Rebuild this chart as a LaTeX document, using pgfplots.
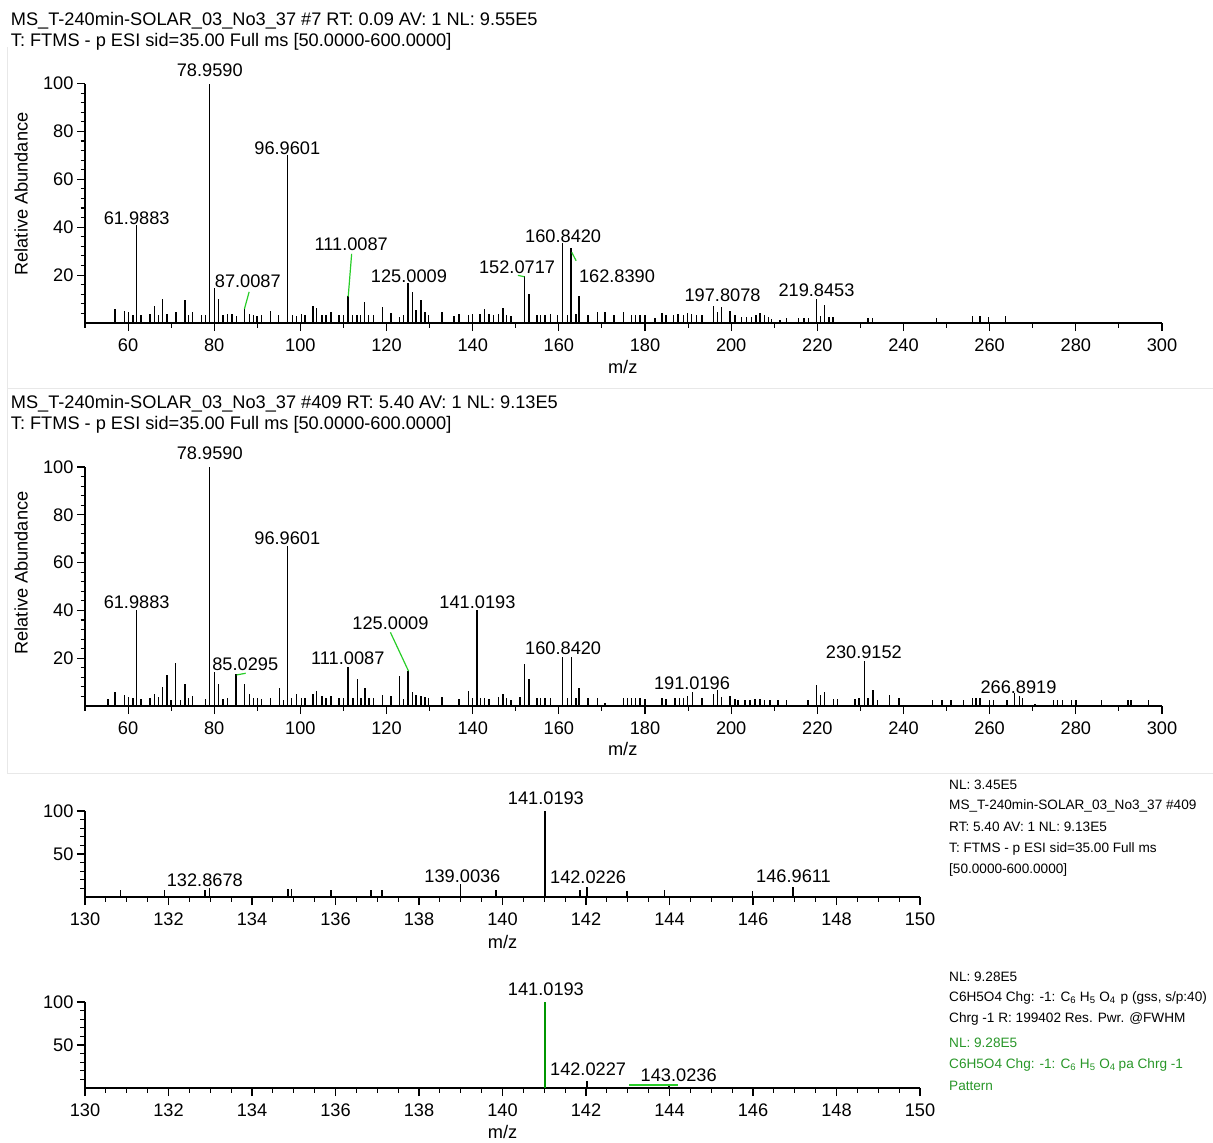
\documentclass[border=0pt]{standalone}
\usepackage{pgfplots}
\pgfplotsset{compat=1.18}
\usepackage{pgfplotstable}
\usepackage{fontspec}
\setmainfont{Liberation Sans}
\definecolor{lblgreen}{RGB}{40,205,40}
\definecolor{txtgreen}{RGB}{40,150,40}
\definecolor{pkgreen}{RGB}{0,150,0}
\definecolor{sepgray}{RGB}{232,232,232}
\newcommand{\bigf}{\fontsize{18.2}{21}\selectfont}
\newcommand{\smallf}{\fontsize{13.6}{16}\selectfont}

\pgfplotstableread{
mz int
57.0 6.0
59.1 4.9
60.1 4.6
61.1 3.5
61.99 41
63.0 3.2
65.1 3.9
66.1 7.0
67.0 3.2
68.0 10.2
69.0 3.9
71.1 4.6
73.2 9.5
74.0 3.2
74.9 4.6
77.1 3.2
78.0 3.5
78.96 100
80.0 14.7
81.0 9.9
82.0 3.2
83.1 3.9
84.1 3.6
85.2 2.8
87.0 6.0
88.2 3.9
89.1 3.5
89.9 2.8
91.0 3.2
93.0 5.0
94.9 3.2
96.96 70
98.1 3.2
99.1 2.8
100.2 3.6
101.1 3.2
102.9 7.0
103.8 6.4
105.0 3.5
105.9 3.2
107.1 4.6
109.0 3.2
110.0 3.2
111.01 11.2
112.1 3.2
113.1 3.2
113.9 3.2
114.9 8.8
115.8 3.2
117.0 3.2
119.1 6.7
121.0 4.3
123.0 2.5
123.9 3.2
125.0 16.8
126.0 13.0
126.8 5.6
128.0 9.5
128.9 4.6
129.7 3.2
132.9 4.6
135.7 2.8
136.8 3.9
139.0 3.2
139.9 3.9
141.7 3.9
142.7 5.7
143.8 3.9
144.8 3.2
146.0 3.9
147.0 6.3
147.9 3.2
148.9 2.8
152.07 19.5
153.1 12.0
154.9 3.2
155.8 3.2
156.8 3.2
158.0 3.9
159.7 3.2
160.84 33.6
162.0 3.2
162.84 31.2
164.0 3.9
164.7 11.2
166.8 3.2
168.9 4.6
170.7 4.6
172.8 3.5
175.0 4.6
176.8 3.5
177.8 3.5
178.8 3.5
180.0 3.2
182.3 2.2
183.9 4.3
184.9 3.2
186.6 3.5
187.7 3.9
188.9 3.5
189.9 4.3
190.8 3.9
192.0 3.5
193.2 3.2
195.9 7.1
196.8 4.6
197.81 6.7
199.7 4.9
200.9 3.2
202.4 2.4
203.6 2.4
204.7 2.4
205.8 3.5
206.7 4.1
207.7 3.5
208.6 2.5
209.4 1.5
211.3 1.3
212.9 2.0
215.6 2.0
216.9 2.0
217.9 2.0
219.85 10.0
220.8 3.0
221.6 7.5
222.7 2.4
223.6 2.4
231.8 2.0
232.8 2.0
247.7 2.0
256.0 3.0
257.8 3.0
259.7 2.4
263.7 3.0
}\panelA

\pgfplotstableread{
mz int
55.3 2.8
57.0 6.0
59.1 4.6
60.1 3.8
61.1 3.2
61.99 40
63.0 2.8
65.1 3.2
66.1 5.1
67.0 3.8
68.0 7.9
69.0 12.9
70.0 2.4
71.05 18
72.1 2.4
73.2 9.4
74.0 3.2
74.9 4.2
78.0 2.8
78.96 100
80.0 14.3
81.0 9.0
82.0 2.8
83.1 3.2
85.03 13.2
87.0 9.3
88.2 4.9
89.1 3.5
90.1 3.2
91.0 2.8
93.0 3.5
95.1 7.4
96.1 2.4
96.96 67
98.0 3.5
99.1 4.9
100.2 3.2
101.1 3.2
102.9 5.1
103.8 6.3
105.0 4.2
105.9 3.5
107.1 4.2
109.0 3.2
110.0 3.2
111.01 16.5
112.2 3.2
113.2 11.5
114.1 3.2
115.0 7.6
115.9 3.2
117.0 3.2
119.1 4.4
121.0 4.2
123.0 12.5
123.9 2.8
125.0 14.5
126.0 6.0
126.8 4.6
128.0 4.2
128.9 3.8
129.7 3.2
132.9 3.8
136.8 2.8
139.0 6.3
139.9 3.2
141.02 40
141.8 3.2
142.7 3.2
143.8 2.8
146.0 3.8
147.0 5.1
147.9 3.2
148.9 2.4
151.0 3.8
152.0 17.6
153.1 11.1
154.9 3.2
155.8 3.2
156.8 3.2
158.0 3.2
160.84 20.5
162.0 3.2
162.9 20.5
164.0 3.2
164.7 7.4
166.8 3.2
168.9 3.2
170.7 1.4
175.0 3.5
175.9 3.5
176.9 3.5
177.8 3.5
178.8 3.5
180.0 2.8
183.9 3.5
184.9 2.8
187.0 3.2
188.0 3.2
188.9 3.2
189.9 4.2
191.02 6.0
193.2 3.2
195.9 4.9
196.8 6.9
197.8 3.8
199.7 4.2
200.9 2.8
201.6 2.4
203.2 2.4
204.4 2.4
205.5 3.0
206.7 3.0
207.8 2.4
209.0 2.4
210.9 2.4
212.9 2.4
217.8 2.4
219.8 8.6
220.8 4.6
221.6 6.0
223.7 2.8
224.7 2.8
228.7 2.8
229.7 3.2
230.92 19
231.8 3.2
232.9 6.9
234.0 2.4
236.7 4.6
239.0 3.5
246.7 2.4
248.9 2.4
251.0 2.4
253.9 2.4
256.0 3.5
256.8 3.5
257.8 3.5
259.9 2.4
260.9 2.4
264.0 2.4
265.7 5.6
266.89 4.2
267.6 3.2
270.5 1.0
274.8 2.4
275.8 2.4
276.9 2.4
279.0 2.4
280.0 2.4
286.0 2.4
292.1 2.4
292.8 2.4
296.9 2.4
}\panelB

\pgfplotstableread{
mz int
130.85 7.8
131.91 7.8
132.87 8.0
132.98 10.0
134.86 9.7
134.95 9.7
135.89 7.8
136.85 7.8
137.11 7.8
139.00 15.5
139.84 7.8
141.02 100
141.86 7.8
142.02 11.6
142.98 7.0
143.88 7.8
145.99 7.0
146.96 11.6
}\panelC

\pgfplotstableread{
mz int
141.02 100
}\panelDg

\pgfplotstableread{
mz int
142.02 7.8
143.99 5.0
}\panelDb

\pgfplotsset{
  msaxis/.style={
    scale only axis,
    anchor=south west,
    axis x line*=bottom,
    axis y line*=left,
    axis line style={-, line width=1.4pt},
    tick align=outside,
    major tick length=8pt,
    minor tick length=4.5pt,
    every tick/.style={black, line width=1.1pt},
    tick label style={font=\bigf},
    xticklabel style={yshift=-4pt},
    /pgf/number format/assume math mode=true,
    /pgf/number format/1000 sep={},
    ymin=0, ymax=100,
    clip=false,
  },
  wide/.style={
    msaxis, width=1077pt,
    xmin=50, xmax=300,
    xtick={60,80,...,300},
    minor xtick={50,70,...,290},
    ytick={20,40,60,80,100},
    minor ytick={4,8,...,96},
  },
  narrow/.style={
    msaxis, width=835pt, height=86pt,
    xmin=130, xmax=150,
    xtick={130,132,...,150},
    minor x tick num=3,
    ytick={50,100},
    minor ytick={10,20,30,40,60,70,80,90},
  },
  pk/.style={ycomb, black, line width=1.4pt, mark=none},
}

\begin{document}
\begin{tikzpicture}[x=1pt,y=1pt]
\useasboundingbox (0,0) rectangle (1213,-1143);
% separators
\draw[sepgray, line width=1pt] (7,-388) -- (1213,-388);
\draw[sepgray, line width=1pt] (7,-773) -- (1213,-773);
\draw[sepgray, line width=1pt] (7,-47) -- (7,-773);

% ---------- Panel 1 ----------
\node[anchor=west, inner sep=0, font=\bigf] at (10.7,-20.7) {MS\_T-240min-SOLAR\_03\_No3\_37 \#7 RT: 0.09 AV: 1 NL: 9.55E5};
\node[anchor=west, inner sep=0, font=\bigf] at (10.7,-41.7) {T: FTMS - p ESI sid=35.00 Full ms [50.0000-600.0000]};
\begin{axis}[wide, at={(85pt,-323pt)}, height=239.5pt]
\addplot[pk] table[x=mz,y=int] {\panelA};
\draw[lblgreen, line width=1.2pt] (axis cs:87.0,5.8) -- (axis cs:88.1,13.0);
\draw[lblgreen, line width=1.2pt] (axis cs:111.1,11) -- (axis cs:111.9,28.9);
\draw[lblgreen, line width=1.2pt] (axis cs:150.5,19.9) -- (axis cs:152.0,19.3);
\draw[lblgreen, line width=1.2pt] (axis cs:163.0,29.5) -- (axis cs:164.0,26.0);
\node[font=\bigf] at (axis cs:78.96,105.4) {78.9590};
\node[font=\bigf] at (axis cs:96.96,72.9) {96.9601};
\node[font=\bigf] at (axis cs:61.99,43.75) {61.9883};
\node[font=\bigf] at (axis cs:111.8,32.9) {111.0087};
\node[font=\bigf] at (axis cs:87.8,17.5) {87.0087};
\node[font=\bigf] at (axis cs:125.2,19.6) {125.0009};
\node[font=\bigf] at (axis cs:150.3,23.3) {152.0717};
\node[font=\bigf] at (axis cs:161.0,36.25) {160.8420};
\node[font=\bigf] at (axis cs:173.5,19.6) {162.8390};
\node[font=\bigf] at (axis cs:198.0,11.7) {197.8078};
\node[font=\bigf] at (axis cs:219.8,13.75) {219.8453};
\end{axis}
\node[font=\bigf, rotate=90] at (21,-194) {Relative Abundance};
\node[font=\bigf] at (622.7,-366.7) {m/z};

% ---------- Panel 2 ----------
\node[anchor=west, inner sep=0, font=\bigf] at (10.7,-404) {MS\_T-240min-SOLAR\_03\_No3\_37 \#409 RT: 5.40 AV: 1 NL: 9.13E5};
\node[anchor=west, inner sep=0, font=\bigf] at (10.7,-425) {T: FTMS - p ESI sid=35.00 Full ms [50.0000-600.0000]};
\begin{axis}[wide, at={(85pt,-706pt)}, height=239pt]
\addplot[pk] table[x=mz,y=int] {\panelB};
\draw[lblgreen, line width=1.2pt] (axis cs:85.2,13.0) -- (axis cs:87.3,13.7);
\draw[lblgreen, line width=1.2pt] (axis cs:120.9,30.8) -- (axis cs:125.1,14.6);
\node[font=\bigf] at (axis cs:78.96,105.7) {78.9590};
\node[font=\bigf] at (axis cs:96.96,70.3) {96.9601};
\node[font=\bigf] at (axis cs:61.99,43.6) {61.9883};
\node[font=\bigf] at (axis cs:87.2,17.6) {85.0295};
\node[font=\bigf] at (axis cs:111.0,20.0) {111.0087};
\node[font=\bigf] at (axis cs:120.9,34.6) {125.0009};
\node[font=\bigf] at (axis cs:141.1,43.6) {141.0193};
\node[font=\bigf] at (axis cs:161.0,24.1) {160.8420};
\node[font=\bigf] at (axis cs:190.9,9.5) {191.0196};
\node[font=\bigf] at (axis cs:230.8,22.5) {230.9152};
\node[font=\bigf] at (axis cs:266.7,7.8) {266.8919};
\end{axis}
\node[font=\bigf, rotate=90] at (21,-573) {Relative Abundance};
\node[font=\bigf] at (622.7,-749.3) {m/z};

% ---------- Panel 3 ----------
\begin{axis}[narrow, at={(85pt,-897pt)}]
\addplot[pk] table[x=mz,y=int] {\panelC};
\node[font=\bigf] at (axis cs:141.04,114.8) {141.0193};
\node[font=\bigf] at (axis cs:132.87,19) {132.8678};
\node[font=\bigf] at (axis cs:139.04,24.4) {139.0036};
\node[font=\bigf] at (axis cs:142.05,23.3) {142.0226};
\node[font=\bigf] at (axis cs:146.97,23.6) {146.9611};
\end{axis}
\node[font=\bigf] at (502.5,-941.7) {m/z};
\begin{scope}[every node/.style={anchor=west, inner sep=0, font=\smallf}]
\node at (949,-785) {NL: 3.45E5};
\node at (949,-805.7) {MS\_T-240min-SOLAR\_03\_No3\_37 \#409};
\node at (949,-827.3) {RT: 5.40 AV: 1 NL: 9.13E5};
\node at (949,-849) {T: FTMS - p ESI sid=35.00 Full ms};
\node at (949,-870) {[50.0000-600.0000]};
\end{scope}

% ---------- Panel 4 ----------
\begin{axis}[narrow, at={(85pt,-1088pt)}]
\addplot[ycomb, pkgreen, line width=1.2pt, mark=none] table[x=mz,y=int] {\panelDg};
\addplot[pk] table[x=mz,y=int] {\panelDb};
\draw[lblgreen, line width=1.2pt] (axis cs:143.04,3.5) -- (axis cs:144.2,3.5);
\node[font=\bigf] at (axis cs:141.04,114.8) {141.0193};
\node[font=\bigf] at (axis cs:142.05,21.7) {142.0227};
\node[font=\bigf] at (axis cs:144.22,15.1) {143.0236};
\end{axis}
\node[font=\bigf] at (502.5,-1131.7) {m/z};
\begin{scope}[every node/.style={anchor=west, inner sep=0, font=\smallf}]
\node at (949,-976.7) {NL: 9.28E5};
\node at (949,-998.3) {C6H5O4 Chg: -1: C\textsubscript{6} H\textsubscript{5} O\textsubscript{4}\hspace{5pt}p (gss, s/p:40)};
\node at (949,-1019.3) {Chrg -1 R: 199402 Res. Pwr. @FWHM};
\node[text=txtgreen] at (949,-1043.3) {NL: 9.28E5};
\node[text=txtgreen] at (949,-1065) {C6H5O4 Chg: -1: C\textsubscript{6} H\textsubscript{5} O\textsubscript{4}\hspace{3pt}pa Chrg -1};
\node[text=txtgreen] at (949,-1086) {Pattern};
\end{scope}
\end{tikzpicture}
\end{document}
